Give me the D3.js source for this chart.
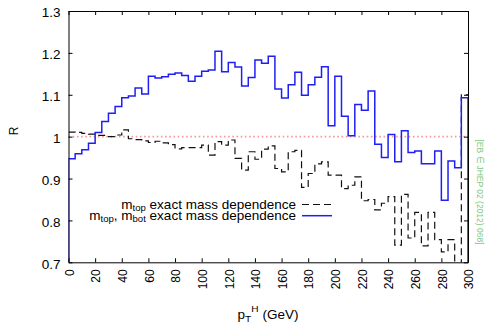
<!DOCTYPE html>
<html>
<head>
<meta charset="utf-8">
<script src="https://cdn.jsdelivr.net/npm/d3@7"></script>
<style>
  body { margin: 0; background: #fff; }
  text { font-family: "Liberation Sans", Arial, sans-serif; fill: #000; }
</style>
</head>
<body>
<div id="chart"></div>
<script>

// bin lower edges in GeV (5 GeV bins)
var binLow = [0, 5, 10, 15, 20, 25, 30, 35, 40, 45, 50, 55, 60, 65, 70, 75, 80, 85, 90, 95,
  100, 105, 110, 115, 120, 125, 130, 135, 140, 145, 150, 155, 160, 165, 170, 175, 180, 185, 190, 195,
  200, 205, 210, 215, 220, 225, 230, 235, 240, 245, 250, 255, 260, 265, 270, 275, 280, 285, 290, 295];
var binWidth = 5;

// m_top exact mass dependence (black dashed)
var rTop = [1.011, 1.010, 1.008, 1.006, 1.003, 1.003, 1.000, 1.004, 1.016, 0.995,
  0.993, 0.990, 0.986, 0.989, 0.985, 0.981, 0.971, 0.974, 0.974, 0.974,
  0.980, 0.956, 0.988, 0.980, 0.992, 0.948, 0.920, 0.964, 0.946, 0.970,
  0.978, 0.924, 0.916, 0.964, 0.967, 0.879, 0.912, 0.935, 0.940, 0.908,
  0.908, 0.876, 0.884, 0.904, 0.847, 0.850, 0.825, 0.841, 0.857, 0.741,
  0.862, 0.758, 0.819, 0.739, 0.819, 0.754, 0.725, 0.754, 0.660, 1.100];

// m_top, m_bot exact mass dependence (blue)
var rTopBot = [0.947, 0.959, 0.969, 0.984, 1.010, 1.036, 1.056, 1.072, 1.093, 1.097,
  1.116, 1.102, 1.144, 1.140, 1.143, 1.149, 1.152, 1.146, 1.132, 1.144,
  1.156, 1.159, 1.204, 1.155, 1.177, 1.166, 1.121, 1.141, 1.183, 1.175,
  1.192, 1.114, 1.092, 1.124, 1.154, 1.099, 1.124, 1.142, 1.167, 1.026,
  1.144, 1.049, 1.002, 1.077, 1.063, 1.109, 0.982, 0.950, 1.005, 0.940,
  1.014, 0.962, 0.966, 0.935, 0.935, 0.966, 0.848, 0.942, 0.926, 1.093];

var xTicks = [0, 20, 40, 60, 80, 100, 120, 140, 160, 180, 200, 220, 240, 260, 280, 300];
var yTicks = [0.7, 0.8, 0.9, 1.0, 1.1, 1.2, 1.3];
var yTickLabels = ["0.7", "0.8", "0.9", "1", "1.1", "1.2", "1.3"];

var W = 487, H = 324;
var sx = 1.127; // text is a bit wider than tall in the picture

var svg = d3.select("#chart").append("svg").attr("width", W).attr("height", H);

var margin = {top: 11, left: 68.5, right: 19, bottom: 61.7};

var x = d3.scaleLinear().domain([0, 300]).range([margin.left, W - margin.right]);
var y = d3.scaleLinear().domain([0.7, 1.3]).range([H - margin.bottom, margin.top]);

svg.append("clipPath").attr("id", "plotclip")
  .append("rect")
  .attr("x", x(0)).attr("y", y(1.3))
  .attr("width", x(300) - x(0)).attr("height", y(0.7) - y(1.3));

// reference line at R = 1
svg.append("line")
  .attr("x1", x(0)).attr("x2", x(300))
  .attr("y1", y(1)).attr("y2", y(1))
  .attr("stroke", "#f49a9a").attr("stroke-width", 1.6)
  .attr("stroke-dasharray", "1.6,2.6");

function steps(vals, closed) {
  var pts = vals.map((v, i) => [binLow[i], v]);
  pts.push([binLow[binLow.length - 1] + binWidth, vals[vals.length - 1]]);
  if (closed) {
    pts.unshift([binLow[0], 0.7]);
    pts.push([binLow[binLow.length - 1] + binWidth, 0.7]);
  }
  return pts;
}

var stepLine = d3.line()
  .x(d => x(d[0]))
  .y(d => y(d[1]))
  .curve(d3.curveStepAfter);

var plot = svg.append("g").attr("clip-path", "url(#plotclip)");

plot.append("path")
  .datum(steps(rTop, false))
  .attr("d", stepLine)
  .attr("fill", "none")
  .attr("stroke", "#111")
  .attr("stroke-width", 1.2)
  .attr("stroke-dasharray", "7,4");

plot.append("path")
  .datum(steps(rTopBot, true))
  .attr("d", stepLine)
  .attr("fill", "none")
  .attr("stroke", "#1f1ff5")
  .attr("stroke-width", 1.5);

// axes, ticks pointing inwards on all four sides
var bottom = svg.append("g")
  .attr("transform", `translate(0,${y(0.7)})`)
  .call(d3.axisBottom(x).tickValues(xTicks).tickSize(-4).tickSizeOuter(0).tickFormat(d => d));
var top = svg.append("g")
  .attr("transform", `translate(0,${y(1.3)})`)
  .call(d3.axisTop(x).tickValues(xTicks).tickSize(-4).tickSizeOuter(0).tickFormat(""));
var left = svg.append("g")
  .attr("transform", `translate(${x(0)},0)`)
  .call(d3.axisLeft(y).tickValues(yTicks).tickSize(-4).tickSizeOuter(0)
    .tickFormat((d, i) => yTickLabels[i]));
var right = svg.append("g")
  .attr("transform", `translate(${x(300)},0)`)
  .call(d3.axisRight(y).tickValues(yTicks).tickSize(-4).tickSizeOuter(0).tickFormat(""));

svg.selectAll(".domain").attr("stroke", "#000").attr("stroke-width", 1);
svg.selectAll(".tick line").attr("stroke", "#000").attr("stroke-width", 1);

bottom.selectAll(".tick text")
  .attr("x", null).attr("y", null).attr("dy", "0.35em")
  .attr("text-anchor", "end")
  .attr("transform", `translate(0,7) scale(${sx},1) rotate(-90)`)
  .style("font-size", "12px")
  .style("font-family", "Liberation Sans, Arial, sans-serif");

left.selectAll(".tick text")
  .attr("x", null).attr("dy", "0.35em")
  .attr("text-anchor", "end")
  .attr("transform", `translate(-8,1.5) scale(${sx},1)`)
  .style("font-size", "12px")
  .style("font-family", "Liberation Sans, Arial, sans-serif");

// axis titles
svg.append("text")
  .attr("text-anchor", "middle")
  .attr("dy", "0.35em")
  .attr("transform", `translate(13,131) scale(${sx},1) rotate(-90)`)
  .style("font-size", "12px")
  .text("R");

var xl = svg.append("text")
  .attr("text-anchor", "middle")
  .attr("transform", `translate(268,319) scale(${sx},1)`)
  .style("font-size", "12px");
xl.append("tspan").text("p");
xl.append("tspan").attr("dy", 2.5).style("font-size", "9px").text("T");
xl.append("tspan").attr("dy", -10).style("font-size", "9px").text("H");
xl.append("tspan").attr("dy", 7.5).text(" (GeV)");

// legend
var legend = [
  {parts: [["m", 0], ["top", 1], [" exact mass dependence", 0]], dash: "7,4", color: "#111", w: 1.2},
  {parts: [["m", 0], ["top", 1], [", m", 0], ["bot", 1], [" exact mass dependence", 0]], dash: null, color: "#1f1ff5", w: 1.5}
];
legend.forEach(function(l, i) {
  var by = 208.5 + i * 11.2;
  var t = svg.append("text")
    .attr("text-anchor", "end")
    .attr("transform", `translate(296,${by}) scale(${sx},1)`)
    .style("font-size", "12px");
  var shift = 0;
  l.parts.forEach(function(p) {
    var target = p[1] ? 2.5 : 0;
    t.append("tspan")
      .attr("dy", target - shift)
      .style("font-size", p[1] ? "8.5px" : "12px")
      .text(p[0]);
    shift = target;
  });
  svg.append("line")
    .attr("x1", 302).attr("x2", 332)
    .attr("y1", by - 4).attr("y2", by - 4)
    .attr("stroke", l.color).attr("stroke-width", l.w)
    .attr("stroke-dasharray", l.dash);
});

// source tag on the right edge
svg.append("text")
  .attr("text-anchor", "middle")
  .attr("dy", "0.35em")
  .attr("transform", `translate(480.5,192) scale(${sx},1) rotate(90)`)
  .style("font-size", "8.5px")
  .style("fill", "#7fc97f")
  .text("[EB \u2208 JHEP 02 (2012) 068]");

</script>
</body>
</html>
